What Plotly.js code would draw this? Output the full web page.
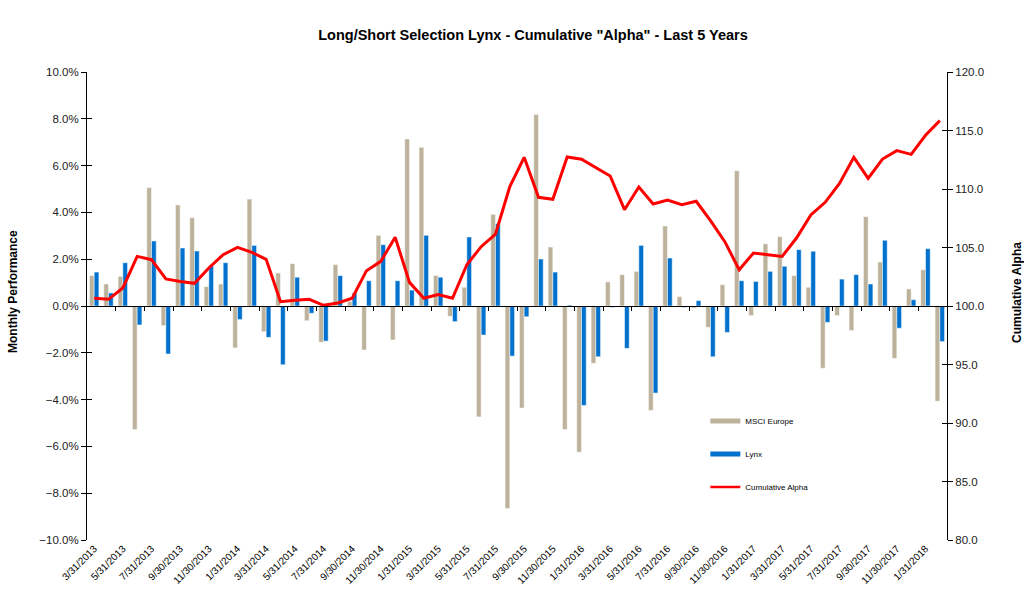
<!DOCTYPE html>
<html>
<head>
<meta charset="utf-8">
<script src="https://cdn.plot.ly/plotly-3.0.1.min.js"></script>
<style>html,body{margin:0;padding:0;background:#fff;}#chart{width:1024px;height:597px;}</style>
</head>
<body>
<div id="chart"></div>
<script>
const dates = [
"3/31/2013","4/30/2013","5/31/2013","6/30/2013","7/31/2013","8/31/2013","9/30/2013","10/31/2013","11/30/2013","12/31/2013",
"1/31/2014","2/28/2014","3/31/2014","4/30/2014","5/31/2014","6/30/2014","7/31/2014","8/31/2014","9/30/2014","10/31/2014","11/30/2014","12/31/2014",
"1/31/2015","2/28/2015","3/31/2015","4/30/2015","5/31/2015","6/30/2015","7/31/2015","8/31/2015","9/30/2015","10/31/2015","11/30/2015","12/31/2015",
"1/31/2016","2/29/2016","3/31/2016","4/30/2016","5/31/2016","6/30/2016","7/31/2016","8/31/2016","9/30/2016","10/31/2016","11/30/2016","12/31/2016",
"1/31/2017","2/28/2017","3/31/2017","4/30/2017","5/31/2017","6/30/2017","7/31/2017","8/31/2017","9/30/2017","10/31/2017","11/30/2017","12/31/2017",
"1/31/2018","2/28/2018"];

const msciEurope = [1.30,0.94,1.27,-5.28,5.06,-0.84,4.32,3.77,0.83,0.94,-1.79,4.57,-1.10,1.41,1.81,
-0.63,-1.55,1.77,0.20,-1.88,3.02,-1.45,7.14,6.78,1.30,-0.44,0.80,-4.74,3.92,
-8.65,-4.36,8.18,2.52,-5.28,-6.25,-2.45,1.03,1.34,1.48,-4.46,3.42,0.40,-0.09,
-0.91,0.91,5.78,-0.41,2.66,2.96,1.30,0.80,-2.66,-0.41,-1.05,3.82,1.88,-2.24,0.73,1.55,-4.07];

const lynx = [1.45,0.56,1.85,-0.81,2.78,-2.05,2.48,2.35,1.72,1.85,-0.58,2.59,-1.34,-2.51,1.23,
-0.31,-1.50,1.30,0.56,1.08,2.62,1.08,0.68,3.02,1.23,-0.67,2.95,-1.24,3.52,
-2.14,-0.46,2.01,1.45,0.04,-4.25,-2.17,-0.06,-1.81,2.59,-3.72,2.05,-0.06,0.23,
-2.17,-1.13,1.08,1.05,1.48,1.70,2.41,2.34,-0.70,1.15,1.34,0.94,2.81,-0.95,0.27,2.45,-1.52];

const cumulativeAlpha = [100.66,100.57,101.54,104.24,103.96,102.31,102.10,101.94,103.25,104.39,105.01,104.59,103.99,100.37,100.50,
100.57,100.06,100.26,100.66,103.02,103.82,105.87,102.02,100.66,100.97,100.66,103.53,105.07,106.15,
110.20,112.71,109.29,109.12,112.74,112.54,111.85,111.11,108.23,110.17,108.72,109.06,108.66,108.95,
107.29,105.50,103.10,104.53,104.39,104.24,105.81,107.78,108.86,110.48,112.71,110.91,112.56,113.28,112.96,114.59,115.84];

const tickLabels = dates.filter((d, i) => i % 2 === 0);
const boundaryTicks = dates.map((d, i) => i + 0.5).filter((v, i) => i % 2 === 1 && i < dates.length - 1);

const TAN = '#BDB29B', BLUE = '#0072CE', RED = '#FF0000';
const FONT = 'Liberation Sans, Arial, sans-serif';

const traces = [
  {type:'bar', x:dates, y:msciEurope, name:'MSCI Europe', marker:{color:TAN, line:{color:'#ffffff', width:0.5}}, showlegend:false, xaxis:'x', yaxis:'y'},
  {type:'bar', x:dates, y:lynx, name:'Lynx', marker:{color:BLUE, line:{color:'#ffffff', width:0.5}}, showlegend:false, xaxis:'x', yaxis:'y'},
  {type:'scatter', mode:'lines', x:dates, y:cumulativeAlpha, name:'Cumulative Alpha', line:{color:RED, width:3}, showlegend:false, xaxis:'x', yaxis:'y2'},
  {type:'scatter', mode:'lines', x:[null], y:[null], name:'MSCI Europe', line:{color:TAN, width:5}, xaxis:'x2', yaxis:'y3', legendgroup:'a'},
  {type:'scatter', mode:'lines', x:[null], y:[null], name:'Lynx', line:{color:BLUE, width:5}, xaxis:'x2', yaxis:'y4', legendgroup:'b'},
  {type:'scatter', mode:'lines', x:[null], y:[null], name:'Cumulative Alpha', line:{color:RED, width:2.5}, xaxis:'x2', yaxis:'y', legendgroup:'c'}
];

const layout = {
  width:1024, height:597,
  margin:{l:87, r:77, t:72, b:57},
  paper_bgcolor:'#fff', plot_bgcolor:'#fff',
  font:{family:FONT, color:'#000'},
  title:{text:'Long/Short Selection Lynx - Cumulative "Alpha" - Last 5 Years', font:{family:FONT, size:14.5, weight:'bold', color:'#000'}, x:533/1024, xanchor:'center', xref:'container', y:1-35/597, yanchor:'middle', yref:'container'},
  barmode:'group', bargap:0.34, bargroupgap:0,
  showlegend:true,
  legend:{x:0.719, y:0.285, xanchor:'left', yanchor:'top', font:{family:FONT, size:8, color:'#000'}, bgcolor:'rgba(0,0,0,0)', tracegroupgap:14, itemwidth:30, traceorder:'grouped'},
  xaxis:{type:'category', range:[-0.5, dates.length-0.5], tickvals:tickLabels, ticktext:tickLabels, tickangle:-45, tickfont:{family:FONT, size:10, color:'#000'}, ticks:'', showline:false, showgrid:false, zeroline:false, fixedrange:true, automargin:false},
  xaxis2:{type:'linear', overlaying:'x', anchor:'free', position:0.5, range:[-0.5, dates.length-0.5], tickvals:boundaryTicks, showticklabels:false, ticks:'outside', ticklen:4, tickcolor:'#000', showline:true, linecolor:'#000', linewidth:1, showgrid:false, zeroline:false},
  yaxis:{range:[-10,10], dtick:2, tick0:0, tickformat:'.1f', ticksuffix:'%', tickfont:{family:FONT, size:11.5, color:'#222'}, ticks:'outside', ticklen:5, tickcolor:'#000', showline:true, linecolor:'#000', linewidth:1, showgrid:false, zeroline:false, automargin:false},
  yaxis2:{range:[80,120], dtick:5, tick0:80, tickformat:'.1f', overlaying:'y', side:'right', tickfont:{family:FONT, size:11.5, color:'#222'}, ticks:'outside', ticklen:5, tickcolor:'#000', showline:true, linecolor:'#000', linewidth:1, showgrid:false, zeroline:false, automargin:false},
  yaxis3:{range:[-10,10], dtick:2, tick0:0, overlaying:'y', side:'left', anchor:'x', showticklabels:false, ticks:'inside', ticklen:5, tickcolor:'#000', showline:false, showgrid:false, zeroline:false},
  yaxis4:{range:[80,120], dtick:5, tick0:80, overlaying:'y', side:'right', anchor:'x', showticklabels:false, ticks:'inside', ticklen:5, tickcolor:'#000', showline:false, showgrid:false, zeroline:false},
  annotations:[
    {text:'<b>Monthly Performance</b>', xref:'paper', yref:'paper', x:(13-87)/860, y:(540-292)/468, textangle:-90, showarrow:false, font:{family:FONT, size:12, color:'#000'}, xanchor:'center', yanchor:'middle'},
    {text:'<b>Cumulative Alpha</b>', xref:'paper', yref:'paper', x:(1017-87)/860, y:(540-292)/468, textangle:-90, showarrow:false, font:{family:FONT, size:12, color:'#000'}, xanchor:'center', yanchor:'middle'}
  ]
};

Plotly.newPlot('chart', traces, layout, {displayModeBar:false, staticPlot:true});
</script>
</body>
</html>
